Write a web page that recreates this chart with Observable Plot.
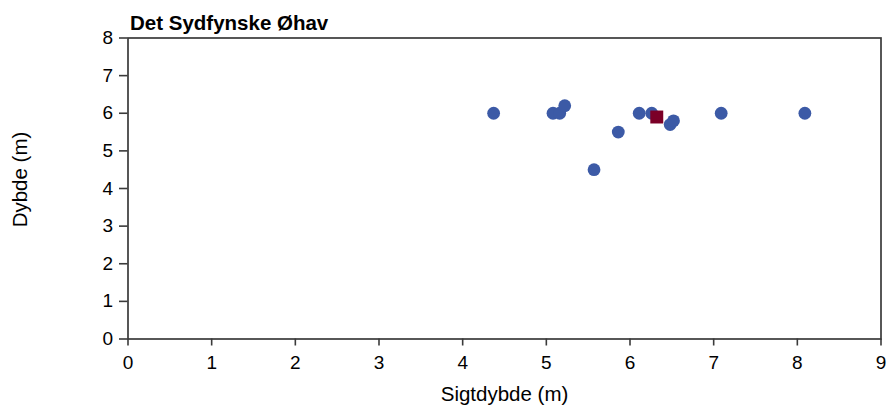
<!DOCTYPE html>
<html>
<head>
<meta charset="utf-8">
<script src="https://cdn.jsdelivr.net/npm/d3@7"></script>
<script src="https://cdn.jsdelivr.net/npm/@observablehq/plot@0.6"></script>
<style>
  html, body { margin: 0; padding: 0; background: #fff; }
  svg { font-family: "Liberation Sans", Arial, sans-serif; }
</style>
</head>
<body>
<div id="chart"></div>
<script>
const title = "Det Sydfynske Øhav";
const xLabel = "Sigtdybde (m)";
const yLabel = "Dybde (m)";
const stationSigt = [4.37, 5.08, 5.16, 5.22, 5.57, 5.86, 6.11, 6.26, 6.48, 6.52, 7.09, 8.09];
const stationDybde = [6.0, 6.0, 6.0, 6.2, 4.5, 5.5, 6.0, 6.0, 5.7, 5.8, 6.0, 6.0];
const meanSigt = [6.32];
const meanDybde = [5.9];
const xTicks = [0, 1, 2, 3, 4, 5, 6, 7, 8, 9];
const yTicks = [0, 1, 2, 3, 4, 5, 6, 7, 8];

const stations = stationSigt.map((x, i) => ({x, y: stationDybde[i]}));
const means = meanSigt.map((x, i) => ({x, y: meanDybde[i]}));

const chart = Plot.plot({
  width: 888,
  height: 405,
  marginLeft: 127.5,
  marginRight: 7.5,
  marginTop: 37.5,
  marginBottom: 66.5,
  style: {fontSize: "19px", fontFamily: "Liberation Sans, Arial, sans-serif", color: "#000", background: "#fff"},
  x: {domain: [0, 9], ticks: xTicks, label: null},
  y: {domain: [0, 8], ticks: yTicks, label: null},
  marks: [
    Plot.frame({stroke: "#3a3a3a", strokeWidth: 1.7}),
    Plot.axisX({ticks: xTicks, tickSize: 7, tickPadding: 9.5, fontSize: 19, stroke: "#3a3a3a", strokeWidth: 1.6, label: null}),
    Plot.axisY({ticks: yTicks, tickSize: 8.5, tickPadding: 6.5, fontSize: 19, stroke: "#3a3a3a", strokeWidth: 1.6, label: null}),
    Plot.dot(stations, {x: "x", y: "y", r: 6.4, fill: "#3c5aa6", stroke: "none"}),
    Plot.dot(means, {x: "x", y: "y", symbol: "square", r: 7.3, fill: "#7b0027", stroke: "none"}),
    Plot.text([title], {frameAnchor: "top-left", text: d => d, dx: 2, dy: -8.5, lineAnchor: "bottom", fontSize: 20.5, fontWeight: "bold", textAnchor: "start", fill: "#000"}),
    Plot.text([xLabel], {frameAnchor: "bottom", text: d => d, dy: 61.5, lineAnchor: "bottom", textAnchor: "middle", fontSize: 20.5, fill: "#000"}),
    Plot.text([yLabel], {frameAnchor: "left", text: d => d, dx: -101, dy: -9, lineAnchor: "bottom", textAnchor: "middle", rotate: -90, fontSize: 20.5, fill: "#000"})
  ]
});
document.getElementById("chart").appendChild(chart);
</script>
</body>
</html>
